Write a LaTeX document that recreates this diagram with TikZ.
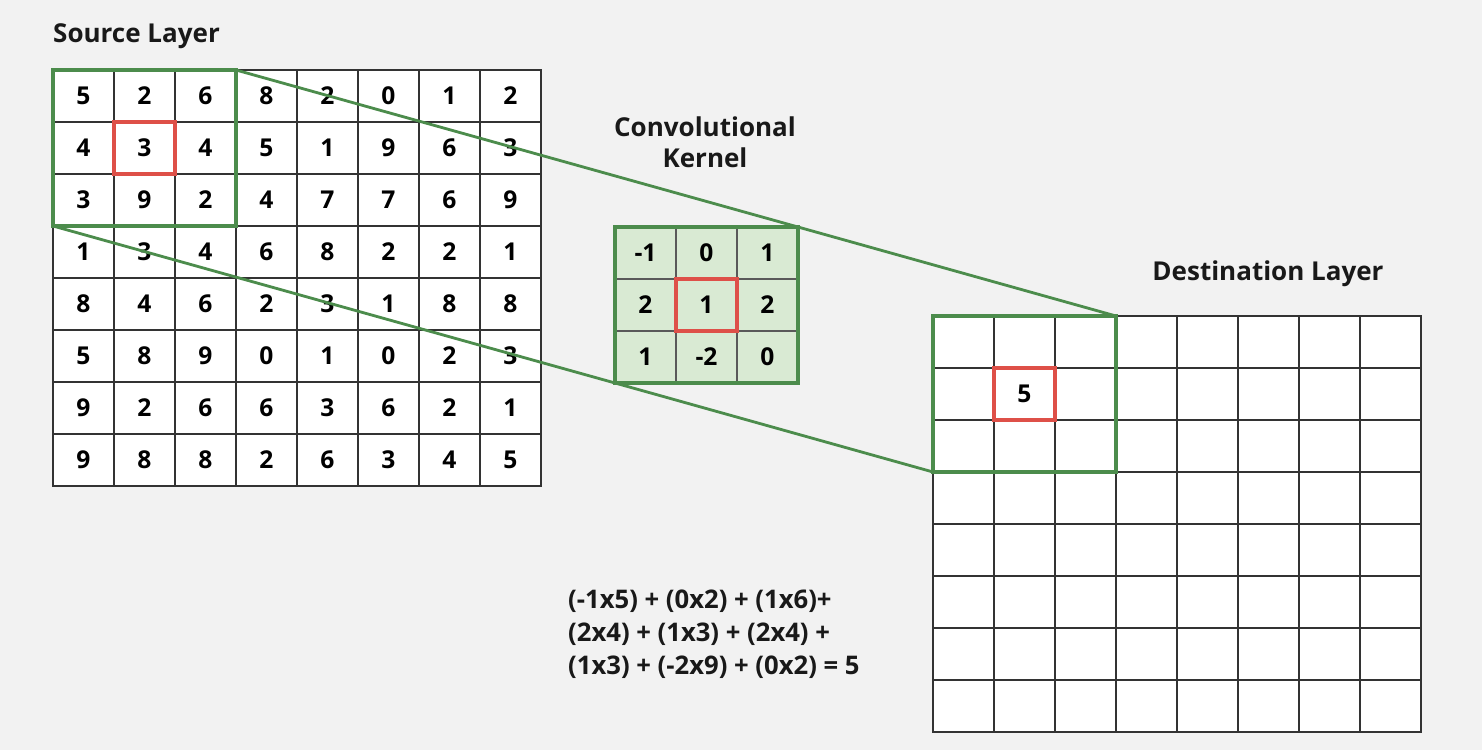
\documentclass[tikz,border=0pt]{standalone}
\usepackage{fontspec}
\setmainfont{Open Sans}
\usetikzlibrary{positioning, fit}
\definecolor{wingreen}{RGB}{76,140,76}
\definecolor{kernfill}{RGB}{217,234,211}
\definecolor{focusred}{RGB}{222,80,72}
\definecolor{pagebg}{RGB}{242,242,242}
\tikzstyle{cell} = [rectangle, minimum width=1.22cm, minimum height=1.04cm, inner sep=0pt, outer sep=0pt, draw=black!80, line width=0.9pt, fill=white, font=\fontsize{14}{16}\selectfont\bfseries]
\tikzstyle{kcell} = [cell, fill=kernfill, draw=black!65]
\tikzstyle{window} = [rectangle, inner sep=0pt, outer sep=0pt, draw=wingreen, line width=1.8pt]
\tikzstyle{focus} = [rectangle, inner sep=0pt, outer sep=0pt, draw=focusred, line width=1.9pt]
\tikzstyle{link} = [wingreen, line width=1.6pt]
\tikzstyle{title} = [font=\fontsize{14.8}{17.6}\selectfont\bfseries, text=black!90]

\begin{document}
\begin{tikzpicture}[x=0.02cm, y=-0.02cm]
        \fill [pagebg] (0,0) rectangle (1482,750);
        \useasboundingbox (0,0) rectangle (1482,750);

        % source layer
        \node (srctitle) [title, anchor=west] at (47,36) {Source Layer};
        \foreach \vals [count=\i from 0] in {{5,2,6,8,2,0,1,2},{4,3,4,5,1,9,6,3},{3,9,2,4,7,7,6,9},{1,3,4,6,8,2,2,1},{8,4,6,2,3,1,8,8},{5,8,9,0,1,0,2,3},{9,2,6,6,3,6,2,1},{9,8,8,2,6,3,4,5}}
            \foreach \v [count=\j from 0] in \vals
                \node (s-\i-\j) [cell] at ({83.5+61*\j}, {96+52*\i}) {\v};

        % kernel
        \node (ktitle) [title, align=center] at (705,142) {Convolutional\\Kernel};
        \foreach \vals [count=\i from 0] in {{-1,0,1},{2,1,2},{1,-2,0}}
            \foreach \v [count=\j from 0] in \vals
                \node (k-\i-\j) [kcell] at ({645.5+61*\j}, {253+52*\i}) {\v};

        % destination layer
        \node (dsttitle) [title] at (1268,274) {Destination Layer};
        \foreach \i in {0,...,7}
            \foreach \j in {0,...,7}
                \node (d-\i-\j) [cell] at ({963.5+61*\j}, {342+52*\i}) {};
        \node (result) [font=\fontsize{14}{16}\selectfont\bfseries] at (d-1-1) {5};

        % windows and centres
        \node (srcwin) [window, fit=(s-0-0)(s-2-2)] {};
        \node (kwin) [window, fit=(k-0-0)(k-2-2)] {};
        \node (dstwin) [window, fit=(d-0-0)(d-2-2)] {};
        \node (srcfocus) [focus, fit=(s-1-1)] {};
        \node (kfocus) [focus, fit=(k-1-1)] {};
        \node (dstfocus) [focus, fit=(d-1-1)] {};

        \draw [link] (srcwin.north east) -- (kwin.north east) -- (dstwin.north east);
        \draw [link] (srcwin.south west) -- (kwin.south west) -- (dstwin.south west);

        % sum
        \node (sum) [anchor=west, align=left, font=\fontsize{14.6}{18.7}\selectfont\bfseries, text=black!90] at (562,634) {(-1x5) + (0x2) + (1x6)+\\(2x4) + (1x3) + (2x4) +\\(1x3) + (-2x9) + (0x2) = 5};

        \end{tikzpicture}
\end{document}
